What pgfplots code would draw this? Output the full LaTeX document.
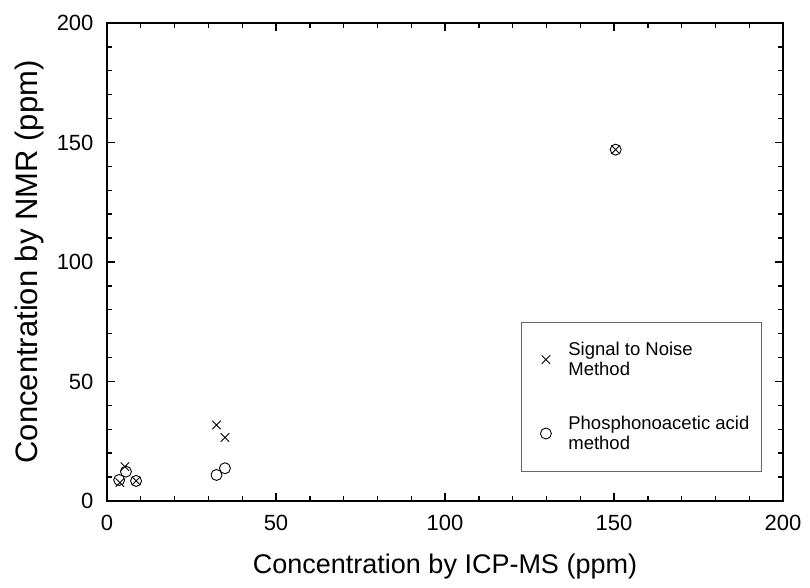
\documentclass[border=0pt]{standalone}
\usepackage{fontspec}
\setmainfont{Liberation Sans}
\usepackage{pgfplots}
\pgfplotsset{compat=1.18}

\begin{document}
\begin{tikzpicture}
    \begin{axis}[
        name = main,
        scale only axis,
        width  = 676pt,
        height = 478pt,
        xmin = 0, xmax = 200,
        ymin = 0, ymax = 200,
        xtick = {0,50,...,200},
        ytick = {0,50,...,200},
        minor x tick num = 4,
        minor y tick num = 4,
        tick align = inside,
        major tick length = 8pt,
        minor tick length = 5pt,
        axis line style = {line width=1.9pt},
        every tick/.style = {black, line width=1.4pt},
        /pgf/number format/assume math mode=true,
        tick label style = {font=\fontsize{22}{25}\selectfont},
        xticklabel style = {yshift=-11pt},
        yticklabel style = {xshift=-10pt},
        xlabel = {Concentration by ICP-MS (ppm)},
        ylabel = {Concentration by NMR (ppm)},
        xlabel style = {font=\fontsize{27}{30}\selectfont, yshift=-16pt},
        ylabel style = {font=\fontsize{31}{34}\selectfont, yshift=6pt},
        legend cell align = left,
        legend image code/.code = {
            \path (0pt,0pt) (34pt,0pt);
            \draw[#1] plot coordinates {(14pt,0pt)};
        },
        legend style = {
            at = {(axis cs:122.5,75)},
            anchor = north west,
            draw = black!60,
            line width = 0.8pt,
            font = \fontsize{18.5}{20}\selectfont,
            nodes = {align=left},
            inner xsep = 10pt,
            inner ysep = 18pt,
            row sep = 35pt,
        },
    ]
        \addplot[only marks, mark=x, mark size=6pt, black, line width=0.9pt]
            coordinates {(3.8,7.7) (5.3,14.4) (8.6,8.4) (32.4,31.8) (34.9,26.6) (150.5,147)};
        \addlegendentry{Signal to Noise\\Method}

        \addplot[only marks, mark=o, mark size=5.5pt, black, line width=0.9pt]
            coordinates {(3.6,8.8) (5.6,12.3) (8.6,8.4) (32.4,10.9) (34.9,13.7) (150.5,147)};
        \addlegendentry{Phosphonoacetic acid\\method}
    \end{axis}
    \path (main.south west) ++(-107pt,-87pt) coordinate (bbA);
    \path (main.north east) ++(27pt,23pt) coordinate (bbB);
    \useasboundingbox (bbA) rectangle (bbB);
\end{tikzpicture}
\end{document}
